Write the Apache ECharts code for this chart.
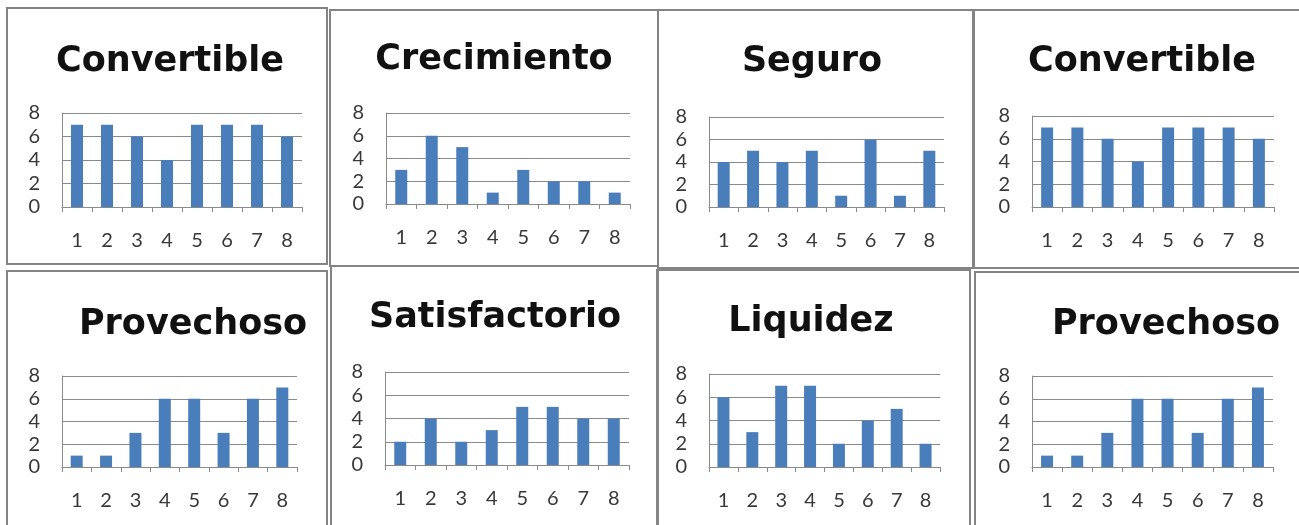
<!DOCTYPE html>
<html><head><meta charset="utf-8">
<script src="https://cdn.jsdelivr.net/npm/echarts@6/dist/echarts.min.js"></script>
<style>html,body{margin:0;padding:0;background:#fff}#c{width:1299px;height:525px}</style>
</head><body><div id="c"></div>
<script>
// ---- data ----
const categories = ['1','2','3','4','5','6','7','8'];
const yMin = 0, yMax = 8, yInterval = 2;
const titles = ['Convertible','Crecimiento','Seguro','Convertible','Provechoso','Satisfactorio','Liquidez','Provechoso'];
const convertibleA = [7,7,6,4,7,7,7,6];
const crecimiento  = [3,6,5,1,3,2,2,1];
const seguro       = [4,5,4,5,1,6,1,5];
const convertibleB = [7,7,6,4,7,7,7,6];
const provechosoA  = [1,1,3,6,6,3,6,7];
const satisfactorio= [2,4,2,3,5,5,4,4];
const liquidez     = [6,3,7,7,2,4,5,2];
const provechosoB  = [1,1,3,6,6,3,6,7];
const seriesData = [convertibleA, crecimiento, seguro, convertibleB, provechosoA, satisfactorio, liquidez, provechosoB];

// ---- layout (positions only) ----
const panels = [
  [7,8,320,256],[330,10,328,256],[658,10,315,258],[974,10,330,258],
  [7,271,320,260],[331,266,327,265],[657,270,313,260],[975,272,330,260]
];
const grids = [
  [62,113,240,94],[386,113,244,91],[709,117,235,90],[1032,116,242,91],
  [62,376,235,91],[385,372,244,93],[709,374,231,93],[1032,376,241,91]
];
const titlePos = [
  [170,62],[494,60],[812,62],[1142,62],
  [193,325],[495,318],[811,322],[1166,325]
];

const TITLE_FONT = '"DejaVu Sans", sans-serif';
const FONT = 'Lato, "Open Sans", sans-serif';
const barColor = '#4A7EBB';
const gridColor = '#8a8a8a';
const labelColor = '#383838';

const option = {
  backgroundColor: '#ffffff',
  animation: false,
  title: titles.map((t,i)=>({
    text: t, left: titlePos[i][0], top: titlePos[i][1], textAlign: 'center', textVerticalAlign: 'middle', padding: 0,
    textStyle: {fontFamily: TITLE_FONT, fontWeight: 'bold', fontSize: 35, color: '#111'}
  })),
  graphic: panels.map(p=>({
    type: 'rect', silent: true, z: -1,
    shape: {x: p[0], y: p[1], width: p[2], height: p[3]},
    style: {fill: 'none', stroke: '#848484', lineWidth: 2}
  })),
  grid: grids.map(g=>({left: g[0], top: g[1], width: g[2], height: g[3], containLabel: false})),
  xAxis: grids.map((g,i)=>({
    type: 'category', gridIndex: i, data: categories, boundaryGap: true,
    axisLine: {show: true, lineStyle: {color: gridColor, width: 1}},
    axisTick: {show: true, alignWithLabel: false, length: 5, lineStyle: {color: gridColor}},
    axisLabel: {margin: 24, fontFamily: FONT, fontSize: 20, color: labelColor},
    splitLine: {show: false}
  })),
  yAxis: grids.map((g,i)=>({
    type: 'value', gridIndex: i, min: yMin, max: yMax, interval: yInterval,
    axisLine: {show: true, lineStyle: {color: gridColor, width: 1}},
    axisTick: {show: false},
    axisLabel: {margin: 22, fontFamily: FONT, fontSize: 20, color: labelColor},
    splitLine: {show: true, lineStyle: {color: gridColor, width: 1}}
  })),
  series: seriesData.map((d,i)=>({
    type: 'bar', xAxisIndex: i, yAxisIndex: i, data: d, barWidth: 12,
    itemStyle: {color: barColor}
  }))
};
echarts.init(document.getElementById('c')).setOption(option);
</script>
</body></html>
